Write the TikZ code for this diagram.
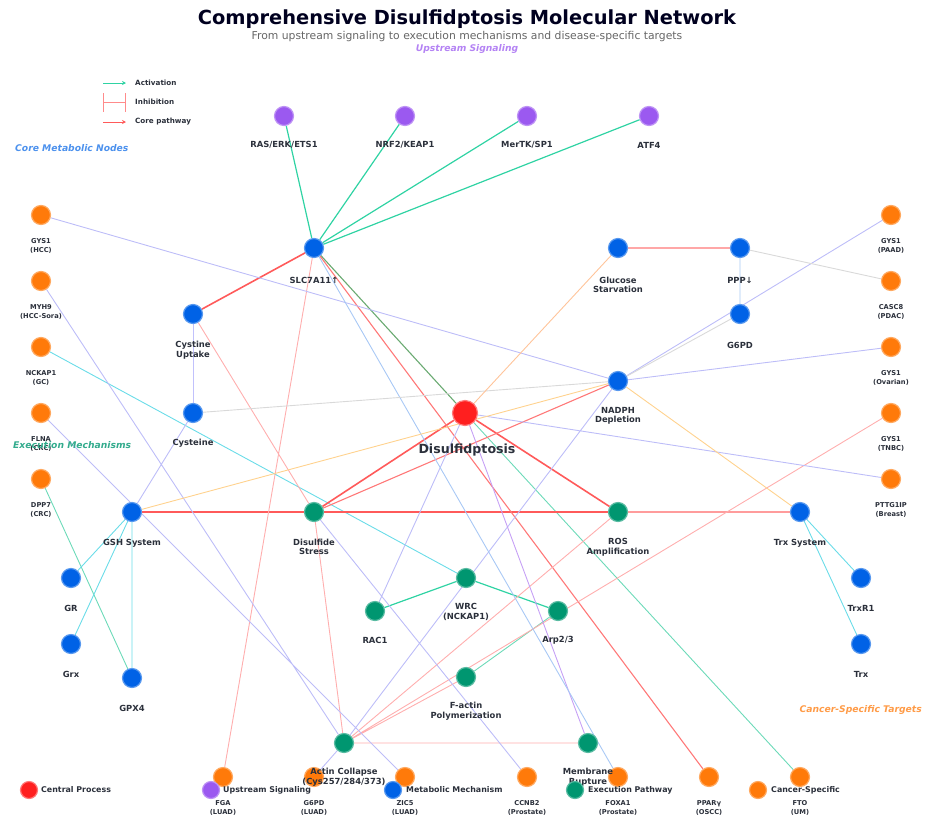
\documentclass[tikz,border=0pt]{standalone}
\usepackage{fontspec}
\setmainfont{DejaVu Sans}
\usetikzlibrary{arrows.meta,backgrounds}
\definecolor{upc}{HTML}{9B59F0}
\definecolor{metc}{HTML}{0062E6}
\definecolor{cenc}{HTML}{FF1F1F}
\definecolor{exec}{HTML}{009670}
\definecolor{canc}{HTML}{FF7A0A}
\definecolor{txt}{HTML}{2B303B}
\definecolor{actg}{HTML}{2FD3A3}
\definecolor{cyan1}{HTML}{6ADCE8}
\definecolor{teal1}{HTML}{6CDAB8}
\definecolor{olive1}{HTML}{6AAA72}
\definecolor{red1}{HTML}{FF5A5A}
\definecolor{red2}{HTML}{FF7878}
\definecolor{red3}{HTML}{FF9C9C}
\definecolor{pink1}{HTML}{FFAEAE}
\definecolor{lav1}{HTML}{BDBDF8}
\definecolor{purp1}{HTML}{C6A0F5}
\definecolor{lblue}{HTML}{A8C8F5}
\definecolor{gray1}{HTML}{D9D9D9}
\definecolor{peach}{HTML}{FFC49A}
\definecolor{orng1}{HTML}{FFD28E}
\tikzset{
  nd/.style={circle,minimum size=19pt,inner sep=0pt,line width=1.2pt},
  upn/.style={nd,fill=upc,draw=upc!65!white},
  metn/.style={nd,fill=metc,draw=metc!65!white},
  exn/.style={nd,fill=exec,draw=exec!65!white},
  can/.style={nd,fill=canc,draw=canc!65!white},
  cen/.style={nd,minimum size=25pt,fill=cenc,draw=cenc!60!white},
  lbl/.style={font=\bfseries\fontsize{8.4}{9.6}\selectfont,text=txt,align=center,inner sep=0pt},
  clbl/.style={font=\bfseries\fontsize{6.7}{9.2}\selectfont,text=txt,align=center,inner sep=0pt},
  sec/.style={font=\bfseries\itshape\fontsize{9.2}{11}\selectfont,inner sep=0pt},
  leg/.style={font=\bfseries\fontsize{7.9}{9}\selectfont,text=txt,anchor=west,inner sep=0pt},
  tleg/.style={font=\bfseries\fontsize{7.2}{8}\selectfont,text=txt,anchor=west,inner sep=0pt},
  e/.style={line width=0.9pt},
}
\begin{document}
\begin{tikzpicture}[x=1pt,y=-1pt]
\useasboundingbox (0,0) rectangle (934,828);
% title
\node[font=\bfseries\fontsize{19.4}{22}\selectfont,text=black!88!blue] (title) at (467,19) {Comprehensive Disulfidptosis Molecular Network};
\node[font=\fontsize{10.8}{12}\selectfont,text=black!60] (sub) at (467,37) {From upstream signaling to execution mechanisms and disease-specific targets};
\node[sec,text=upc!75!white] (secup) at (467,49) {Upstream Signaling};
\node[sec,text=metc!70!white,anchor=west] (secmet) at (15,148) {Core Metabolic Nodes};
\node[sec,text=canc!75!white,anchor=east] (seccan) at (922,710) {Cancer-Specific Targets};
% top legend
\coordinate (la1) at (103,83); \coordinate (la2) at (126,83);
\coordinate (li1) at (103,102); \coordinate (li2) at (125,102);
\coordinate (lc1) at (103,122); \coordinate (lc2) at (126,122);
\draw[actg,line width=1pt,-{Stealth[length=4pt,width=4pt]}] (la1) -- (la2);
\draw[pink1!80!red,line width=1pt] (li1) -- (li2);
\draw[pink1!80!red,line width=1pt] (103,93) -- (103,112) (125,93) -- (125,112);
\draw[red1,line width=1pt,-{Stealth[length=4pt,width=4pt]}] (lc1) -- (lc2);
\node[tleg] (t1) at (135,83) {Activation};
\node[tleg] (t2) at (135,102) {Inhibition};
\node[tleg] (t3) at (135,122) {Core pathway};
% upstream
\node[upn] (ras) at (284,116) {};
\node[upn] (nrf) at (405,116) {};
\node[upn] (mer) at (527,116) {};
\node[upn] (atf) at (649,116) {};
\node[lbl] (rasl) at (284,145) {RAS/ERK/ETS1};
\node[lbl] (nrfl) at (405,145) {NRF2/KEAP1};
\node[lbl] (merl) at (527,145) {MerTK/SP1};
\node[lbl] (atfl) at (649,145) {ATF4};
% metabolic
\node[metn] (slc) at (314,248) {};
\node[metn] (cys) at (193,314) {};
\node[metn] (cyst) at (193,413) {};
\node[metn] (glu) at (618,248) {};
\node[metn] (ppp) at (740,248) {};
\node[metn] (g6pd) at (740,314) {};
\node[metn] (nadph) at (618,381) {};
\node[metn] (gsh) at (132,512) {};
\node[metn] (trxs) at (800,512) {};
\node[metn] (gr) at (71,578) {};
\node[metn] (grx) at (71,644) {};
\node[metn] (gpx) at (132,678) {};
\node[metn] (trxr) at (861,578) {};
\node[metn] (trx) at (861,644) {};
\node[lbl] (slcl) at (314,280) {SLC7A11↑};
\node[lbl] (cysl) at (193,350) {Cystine\\Uptake};
\node[lbl] (cystl) at (193,443) {Cysteine};
\node[lbl] (glul) at (618,285) {Glucose\\Starvation};
\node[lbl] (pppl) at (740,280) {PPP↓};
\node[lbl] (g6pdl) at (740,345) {G6PD};
\node[lbl] (nadphl) at (618,416) {NADPH\\Depletion};
\node[lbl] (gshl) at (132,543) {GSH System};
\node[lbl] (trxsl) at (800,543) {Trx System};
\node[lbl] (grl) at (71,608) {GR};
\node[lbl] (grxl) at (71,674) {Grx};
\node[lbl] (gpxl) at (132,708) {GPX4};
\node[lbl] (trxrl) at (861,608) {TrxR1};
\node[lbl] (trxl) at (861,674) {Trx};
% central
\node[cen] (dis) at (465,413) {};
\node[font=\bfseries\fontsize{12.6}{14}\selectfont,text=txt] (disl) at (467,450) {Disulfidptosis};
% execution
\node[exn] (dst) at (314,512) {};
\node[exn] (ros) at (618,512) {};
\node[exn] (wrc) at (466,578) {};
\node[exn] (rac) at (375,611) {};
\node[exn] (arp) at (558,611) {};
\node[exn] (fact) at (466,677) {};
\node[exn] (ac) at (344,743) {};
\node[exn] (mr) at (588,743) {};
\node[lbl] (dstl) at (314,547) {Disulfide\\Stress};
\node[lbl] (rosl) at (618,547) {ROS\\Amplification};
\node[lbl] (wrcl) at (466,612) {WRC\\(NCKAP1)};
\node[lbl] (racl) at (375,640) {RAC1};
\node[lbl] (arpl) at (558,640) {Arp2/3};
\node[lbl] (factl) at (466,711) {F-actin\\Polymerization};
% cancer
\node[can] (c1) at (41,215) {};
\node[can] (c2) at (41,281) {};
\node[can] (c3) at (41,347) {};
\node[can] (c4) at (41,413) {};
\node[can] (c5) at (41,479) {};
\node[can] (d1) at (891,215) {};
\node[can] (d2) at (891,281) {};
\node[can] (d3) at (891,347) {};
\node[can] (d4) at (891,413) {};
\node[can] (d5) at (891,479) {};
\node[can] (b1) at (223,777) {};
\node[can] (b2) at (314,777) {};
\node[can] (b3) at (405,777) {};
\node[can] (b4) at (527,777) {};
\node[can] (b5) at (618,777) {};
\node[can] (b6) at (709,777) {};
\node[can] (b7) at (800,777) {};
% edges
\begin{scope}[on background layer]
\draw[e,actg,line width=1.2pt] (ras) -- (slc) (nrf) -- (slc) (mer) -- (slc) (atf) -- (slc);
\draw[e,actg,line width=1.2pt] (wrc) -- (rac) (wrc) -- (arp);
\draw[e,teal1] (arp) -- (fact) (c5) -- (gpx) (dis) -- (b7);
\draw[e,cyan1] (gsh) -- (gr) (gsh) -- (grx) (gsh) -- (gpx) (trxs) -- (trxr) (trxs) -- (trx) (c3) -- (wrc);
\draw[e,olive1,line width=1.1pt] (slc) -- (dis);
\draw[e,red1,line width=1.6pt] (slc) -- (cys) (dis) -- (dst) (dis) -- (ros);
\draw[e,red1,line width=1.3pt] (gsh) -- (dst) (dst) -- (ros);
\draw[e,red3,line width=1.1pt] (ros) -- (trxs);
\draw[e,red2,line width=1.1pt] (slc) -- (b6) (nadph) -- (dst) (glu) -- (ppp);
\draw[e,pink1] (slc) -- (b1) (cys) -- (dst) (dst) -- (ac) (ros) -- (ac) (d4) -- (ac) (fact) -- (ac) (ac) -- (mr);
\draw[e,lav1] (c1) -- (nadph) (c2) -- (ac) (c4) -- (b3) (cyst) -- (gsh) (dst) -- (b4) (nadph) -- (ac) (dis) -- (rac) (dis) -- (d5) (nadph) -- (d1) (nadph) -- (d3) (ac) -- (b2);
\draw[e,lav1!80!blue!60!white] (cys) -- (cyst);
\draw[e,purp1] (dis) -- (mr);
\draw[e,lblue] (slc) -- (b5) (ppp) -- (g6pd);
\draw[e,gray1] (cyst) -- (nadph) (nadph) -- (g6pd) (ppp) -- (d2);
\draw[e,peach] (glu) -- (dis);
\draw[e,orng1] (nadph) -- (gsh) (nadph) -- (trxs);
\end{scope}
% labels drawn over edges
\node[lbl] (acl) at (344,777) {Actin Collapse\\(Cys257/284/373)};
\node[lbl] (mrl) at (588,777) {Membrane\\Rupture};
\node[clbl] (c1l) at (41,246) {GYS1\\(HCC)};
\node[clbl] (c2l) at (41,312) {MYH9\\(HCC-Sora)};
\node[clbl] (c3l) at (41,378) {NCKAP1\\(GC)};
\node[clbl] (c4l) at (41,444) {FLNA\\(CRC)};
\node[clbl] (c5l) at (41,510) {DPP7\\(CRC)};
\node[clbl] (d1l) at (891,246) {GYS1\\(PAAD)};
\node[clbl] (d2l) at (891,312) {CASC8\\(PDAC)};
\node[clbl] (d3l) at (891,378) {GYS1\\(Ovarian)};
\node[clbl] (d4l) at (891,444) {GYS1\\(TNBC)};
\node[clbl] (d5l) at (891,510) {PTTG1IP\\(Breast)};
\node[clbl] (b1l) at (223,808) {FGA\\(LUAD)};
\node[clbl] (b2l) at (314,808) {G6PD\\(LUAD)};
\node[clbl] (b3l) at (405,808) {ZIC5\\(LUAD)};
\node[clbl] (b4l) at (527,808) {CCNB2\\(Prostate)};
\node[clbl] (b5l) at (618,808) {FOXA1\\(Prostate)};
\node[clbl] (b6l) at (709,808) {PPARγ\\(OSCC)};
\node[clbl] (b7l) at (800,808) {FTO\\(UM)};
\node[sec,text=exec!80!white,anchor=west] (secex) at (13,445) {Execution Mechanisms};
% bottom legend
\node[cen,minimum size=17pt] (k1) at (29,790) {};
\node[upn,minimum size=17pt] (k2) at (211,790) {};
\node[metn,minimum size=17pt] (k3) at (393,790) {};
\node[exn,minimum size=17pt] (k4) at (575,790) {};
\node[can,minimum size=17pt] (k5) at (758,790) {};
\node[leg] (k1t) at (41,790) {Central Process};
\node[leg] (k2t) at (223,790) {Upstream Signaling};
\node[leg] (k3t) at (406,790) {Metabolic Mechanism};
\node[leg] (k4t) at (588,790) {Execution Pathway};
\node[leg] (k5t) at (771,790) {Cancer-Specific};
\end{tikzpicture}
\end{document}
